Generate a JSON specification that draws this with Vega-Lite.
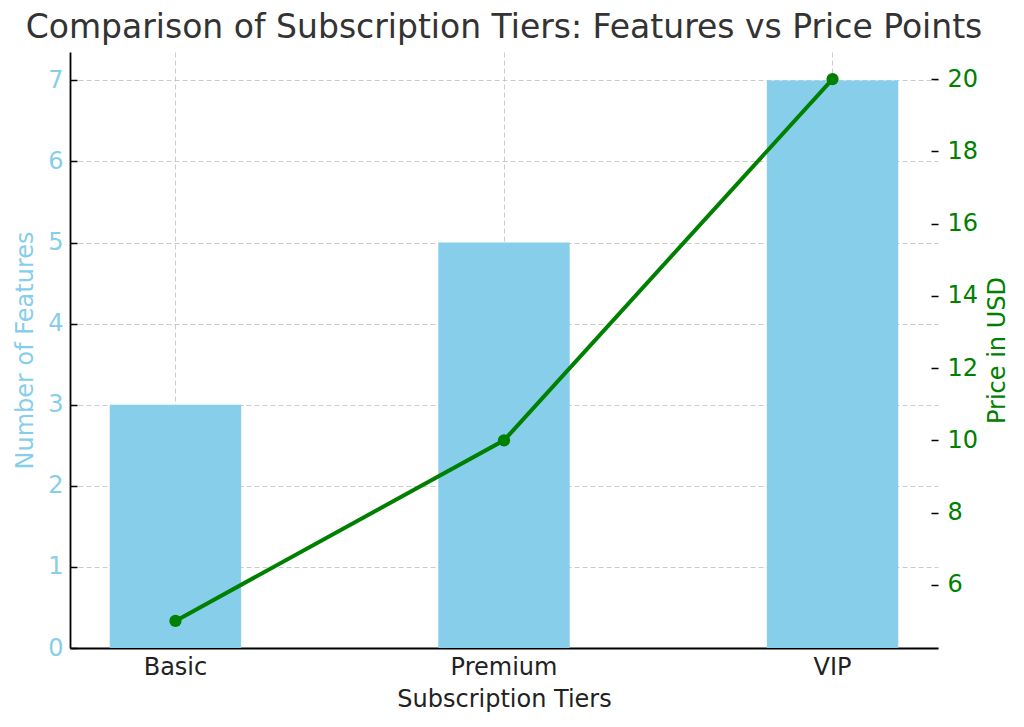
{
  "$schema": "https://vega.github.io/schema/vega-lite/v6.json",
  "width": 868,
  "height": 596,
  "autosize": {"type": "none"},
  "padding": {"left": 70, "top": 52, "right": 86, "bottom": 79},
  "title": {
    "text": "Comparison of Subscription Tiers: Features vs Price Points",
    "fontSize": 33,
    "font": "DejaVu Sans",
    "fontWeight": "normal",
    "color": "#333333",
    "anchor": "middle",
    "offset": 7
  },
  "config": {
    "view": {"stroke": null},
    "font": "DejaVu Sans",
    "axis": {
      "labelFont": "DejaVu Sans",
      "titleFont": "DejaVu Sans",
      "titleFontWeight": "normal",
      "labelFontSize": 24,
      "titleFontSize": 24,
      "tickSize": -7,
      "tickColor": "#000000",
      "tickWidth": 1.5,
      "domainColor": "#000000",
      "domainWidth": 1.8,
      "grid": true,
      "gridColor": "#b0b0b0",
      "gridOpacity": 0.65,
      "gridDash": [5, 3],
      "gridWidth": 1,
      "zindex": 1
    }
  },
  "data": {
    "values": [
      {"tier": "Basic", "features": 3, "price": 5},
      {"tier": "Premium", "features": 5, "price": 10},
      {"tier": "VIP", "features": 7, "price": 20}
    ]
  },
  "encoding": {
    "x": {
      "field": "tier",
      "type": "nominal",
      "sort": null,
      "scale": {"paddingInner": 0.6, "paddingOuter": 0.121},
      "axis": {
        "title": "Subscription Tiers",
        "titleColor": "#222222",
        "labelColor": "#222222",
        "labelAngle": 0,
        "labelPadding": 14,
        "titlePadding": 8
      }
    }
  },
  "layer": [
    {
      "mark": {"type": "bar", "color": "#87CEEB"},
      "encoding": {
        "y": {
          "field": "features",
          "type": "quantitative",
          "scale": {"domain": [0, 7.35], "nice": false, "zero": false},
          "axis": {
            "orient": "left",
            "title": "Number of Features",
            "titleColor": "#87CEEB",
            "labelColor": "#87CEEB",
            "values": [0, 1, 2, 3, 4, 5, 6, 7],
            "labelPadding": 14,
            "titlePadding": 10
          }
        }
      }
    },
    {
      "encoding": {
        "y": {
          "field": "price",
          "type": "quantitative",
          "scale": {"domain": [4.25, 20.75], "nice": false, "zero": false},
          "axis": {
            "orient": "right",
            "title": "Price in USD",
            "titleColor": "#008000",
            "labelColor": "#008000",
            "titleAngle": 270,
            "titleBaseline": "top",
            "values": [6, 8, 10, 12, 14, 16, 18, 20],
            "domain": false,
            "labelPadding": 16,
            "titlePadding": 8
          }
        }
      },
      "layer": [
        {"mark": {"type": "line", "color": "#008000", "strokeWidth": 4}},
        {"mark": {"type": "point", "filled": true, "color": "#008000", "size": 150, "opacity": 1}}
      ]
    }
  ],
  "resolve": {"scale": {"y": "independent"}}
}
